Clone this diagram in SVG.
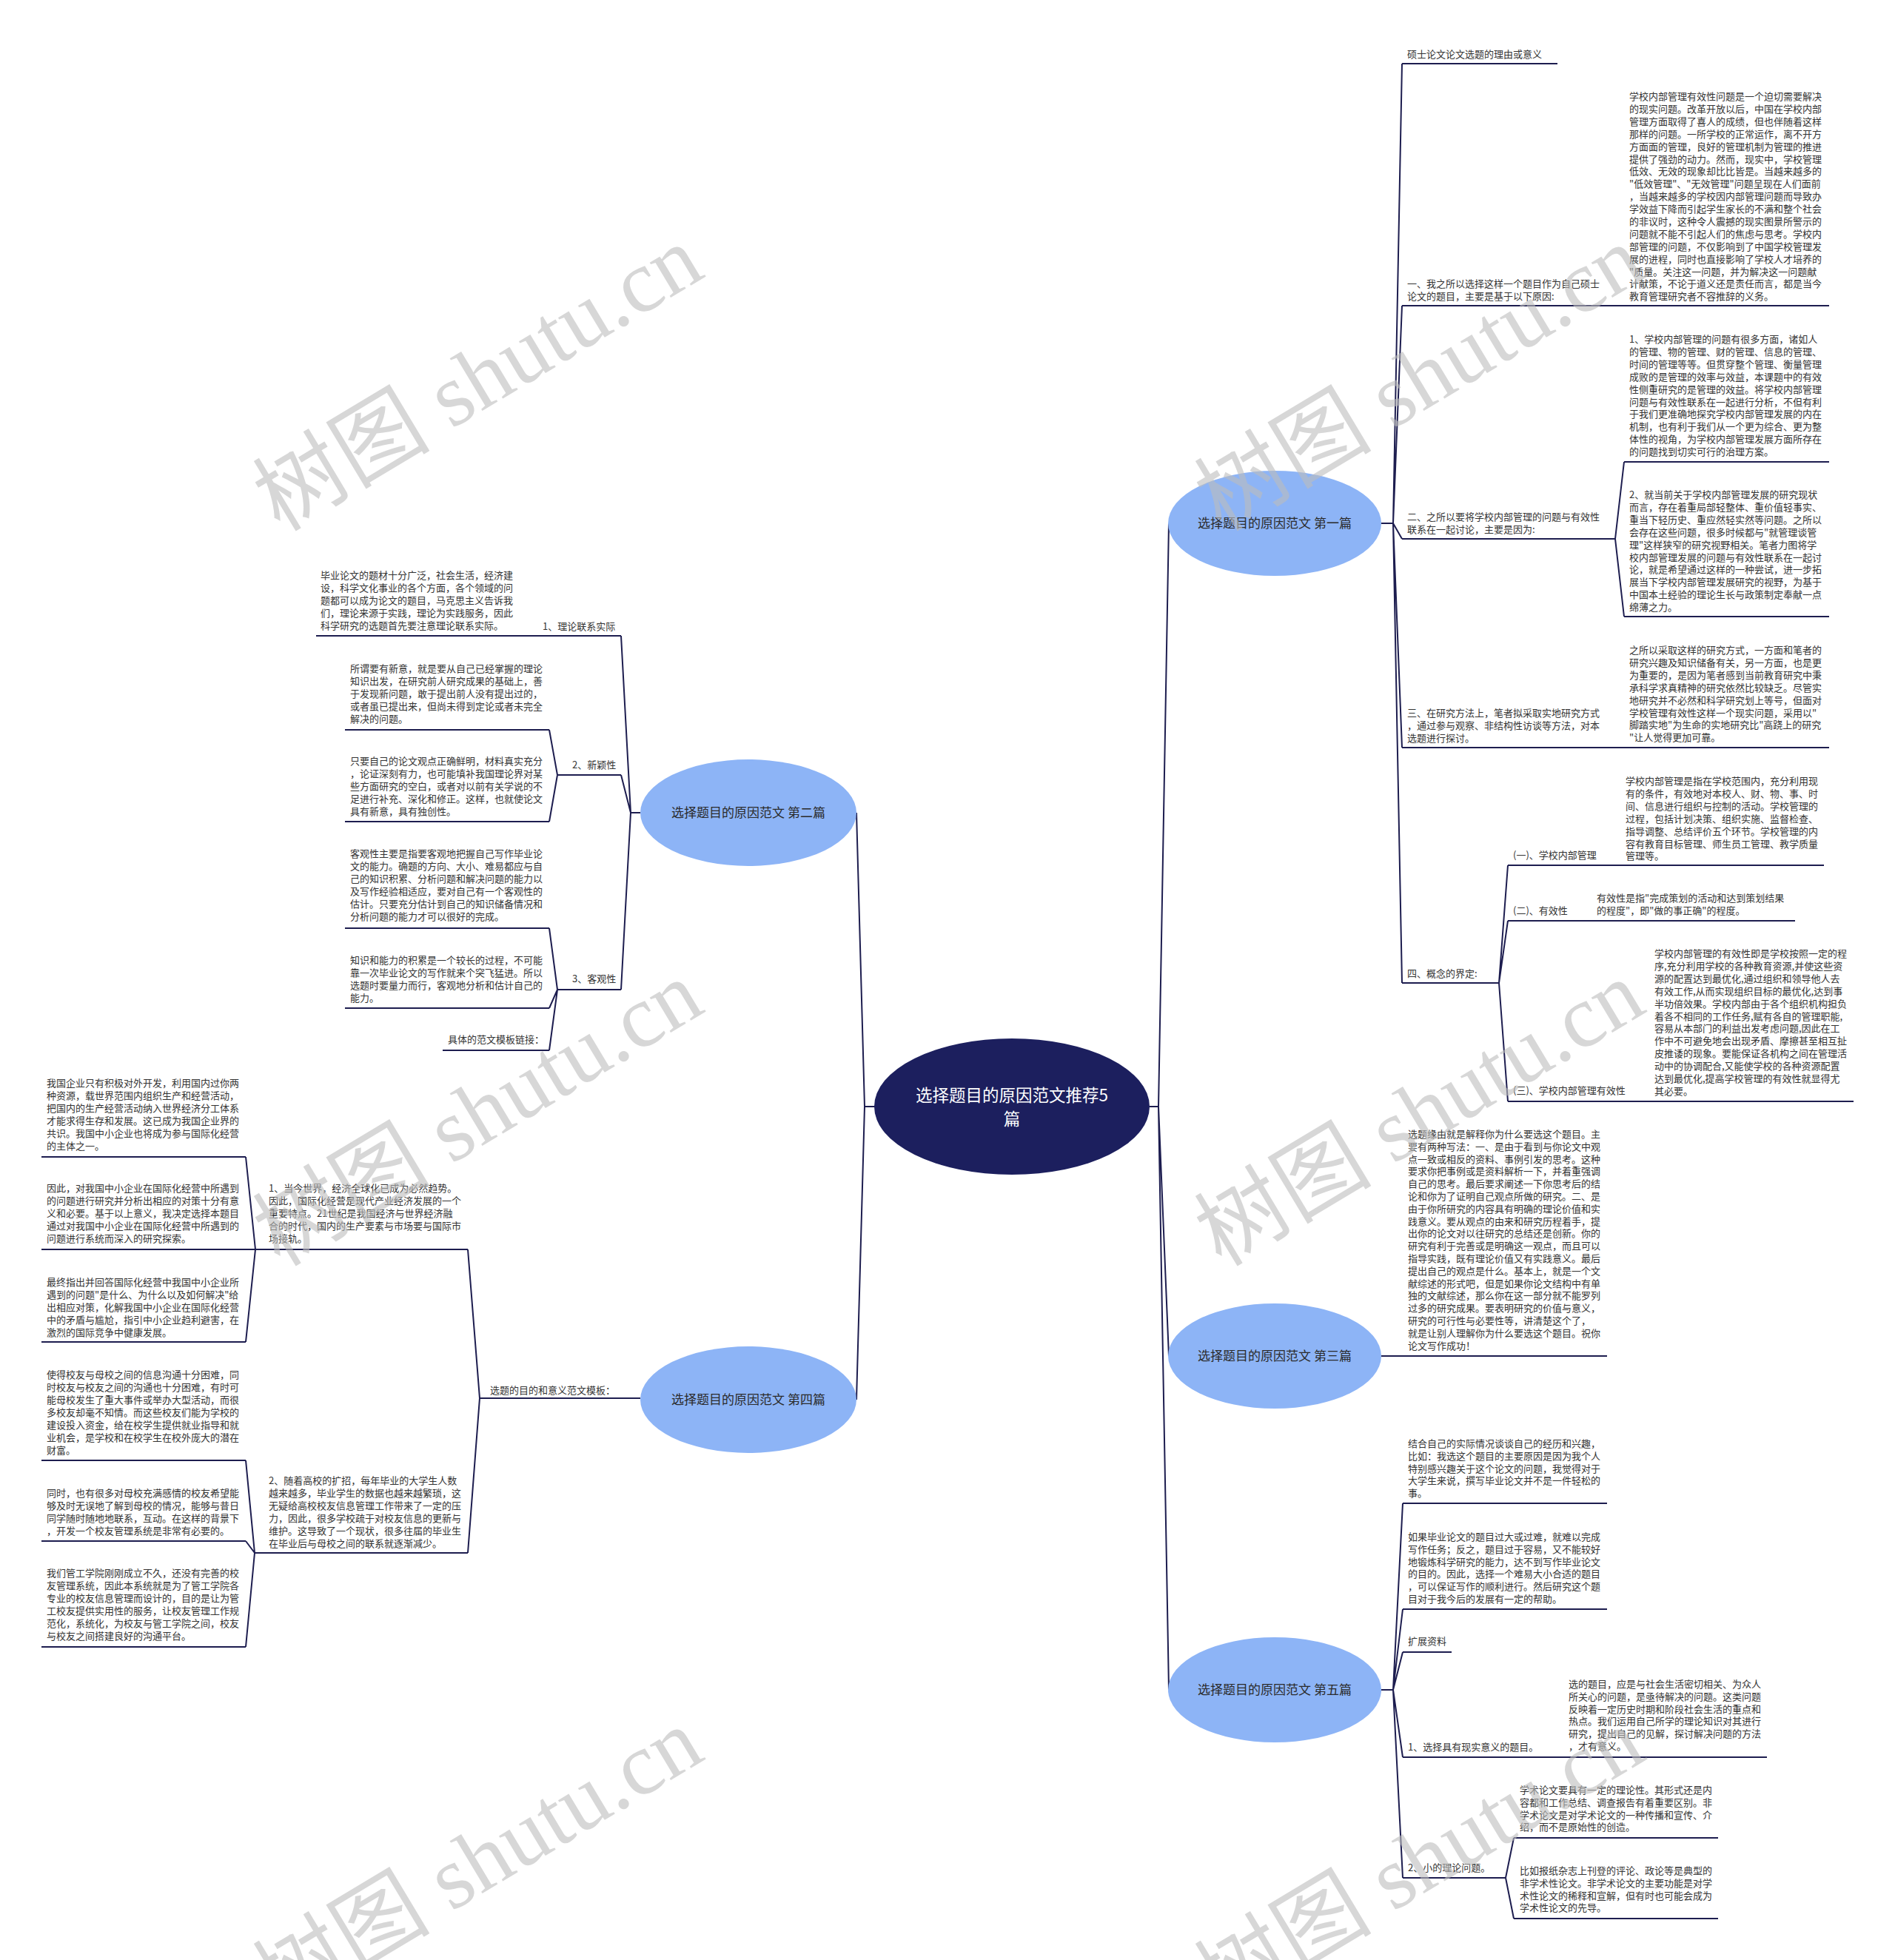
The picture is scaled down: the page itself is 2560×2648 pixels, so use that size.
<svg xmlns="http://www.w3.org/2000/svg" width="2560" height="2648" viewBox="0 0 2560 2648">
<style>
.t{font-family:"Noto Sans CJK SC","Noto Sans",sans-serif;font-size:13px;fill:#333;}
.l{stroke:#1d1d4f;stroke-width:2;fill:none;stroke-linejoin:round;}
.n1{fill:#8db4f6;}
.n1t{font-family:"Noto Sans CJK SC","Noto Sans",sans-serif;font-size:17px;fill:#2b2b2b;text-anchor:middle;}
.root{fill:#1c1f5e;}
.roott{font-family:"Noto Sans CJK SC","Noto Sans",sans-serif;font-size:22.5px;fill:#fff;text-anchor:middle;}
.wm{font-family:"Liberation Serif","Noto Sans CJK SC",serif;font-size:120px;fill:#bdbdbd;opacity:0.6;text-anchor:middle;}
</style>
<rect width="2560" height="2648" fill="#fff"/>

<g id="connectors">
<!-- root trunks -->
<path class="l" d="M1553 1495 L1565 1495 L1579 707 M1565 1495 L1579 1832 M1565 1495 L1579 2283"/>
<path class="l" d="M1182 1495 L1168 1495 L1157 1098 M1168 1495 L1157 1891"/>
<!-- 第一篇 -->
<path class="l" d="M1866 707 L1882 707 L1894 86 M1882 707 L1894 413 M1882 707 L1894 728 M1882 707 L1894 1010 M1882 707 L1894 1328"/>
<path class="l" d="M2182 728 L2194 624 M2182 728 L2194 833"/>
<path class="l" d="M2025 1328 L2037 1169 M2025 1328 L2037 1244 M2025 1328 L2037 1488"/>
<!-- 第三篇 -->
<path class="l" d="M1866 1832 L1880 1832"/>
<!-- 第五篇 -->
<path class="l" d="M1866 2283 L1882 2283 L1895 2031 M1882 2283 L1895 2174 M1882 2283 L1895 2232 M1882 2283 L1895 2374 M1882 2283 L1895 2537"/>
<path class="l" d="M2034 2537 L2045 2483 M2034 2537 L2045 2592"/>
<!-- 第二篇 -->
<path class="l" d="M865 1098 L852 1098 L839 859 M852 1098 L839 1047 M852 1098 L839 1337"/>
<path class="l" d="M753 1047 L742 986 M753 1047 L742 1110"/>
<path class="l" d="M753 1337 L742 1254 M753 1337 L742 1362 M753 1337 L742 1419"/>
<!-- 第四篇 -->
<path class="l" d="M865 1889 L648 1889 L632 1688 M648 1889 L632 2098"/>
<path class="l" d="M345 1688 L332 1563 M345 1688 L332 1813"/>
<path class="l" d="M344 2098 L332 1973 M344 2098 L332 2082 M344 2098 L332 2225"/>
</g>

<g id="root">
<ellipse class="root" cx="1367" cy="1495" rx="186" ry="92"/>
<text class="roott" x="1367" y="1488">选择题目的原因范文推荐5</text>
<text class="roott" x="1367" y="1520">篇</text>
</g>

<g id="p1">
<ellipse class="n1" cx="1722" cy="707" rx="144" ry="71"/>
<text class="n1t" x="1722" y="713">选择题目的原因范文 第一篇</text>
</g>
<g id="p3">
<ellipse class="n1" cx="1722" cy="1832" rx="144" ry="71"/>
<text class="n1t" x="1722" y="1838">选择题目的原因范文 第三篇</text>
</g>
<g id="p5">
<ellipse class="n1" cx="1722" cy="2283" rx="144" ry="71"/>
<text class="n1t" x="1722" y="2289">选择题目的原因范文 第五篇</text>
</g>
<g id="p2">
<ellipse class="n1" cx="1011" cy="1098" rx="146" ry="72"/>
<text class="n1t" x="1011" y="1104">选择题目的原因范文 第二篇</text>
</g>
<g id="p4">
<ellipse class="n1" cx="1011" cy="1891" rx="146" ry="72"/>
<text class="n1t" x="1011" y="1897">选择题目的原因范文 第四篇</text>
</g>

<!-- 第一篇 children -->
<g id="p1-title">
<text class="t" x="1901" y="78">硕士论文论文选题的理由或意义</text>
<path class="l" d="M1894 86 L2104 86"/>
</g>
<g id="p1-a">
<text class="t" x="1901" y="388">一、我之所以选择这样一个题目作为自己硕士<tspan x="1901" dy="17">论文的题目，主要是基于以下原因:</tspan></text>
<path class="l" d="M1894 413 L2471 413"/>
</g>
<g id="p1-a1">
<text class="t" x="2201" y="135"><tspan x="2201">学校内部管理有效性问题是一个迫切需要解决</tspan><tspan x="2201" dy="16.9">的现实问题。改革开放以后，中国在学校内部</tspan><tspan x="2201" dy="16.9">管理方面取得了喜人的成绩，但也伴随着这样</tspan><tspan x="2201" dy="16.9">那样的问题。一所学校的正常运作，离不开方</tspan><tspan x="2201" dy="16.9">方面面的管理，良好的管理机制为管理的推进</tspan><tspan x="2201" dy="16.9">提供了强劲的动力。然而，现实中，学校管理</tspan><tspan x="2201" dy="16.9">低效、无效的现象却比比皆是。当越来越多的</tspan><tspan x="2201" dy="16.9">"低效管理"、"无效管理"问题呈现在人们面前</tspan><tspan x="2201" dy="16.9">，当越来越多的学校因内部管理问题而导致办</tspan><tspan x="2201" dy="16.9">学效益下降而引起学生家长的不满和整个社会</tspan><tspan x="2201" dy="16.9">的非议时，这种令人震撼的现实图景所警示的</tspan><tspan x="2201" dy="16.9">问题就不能不引起人们的焦虑与思考。学校内</tspan><tspan x="2201" dy="16.9">部管理的问题，不仅影响到了中国学校管理发</tspan><tspan x="2201" dy="16.9">展的进程，同时也直接影响了学校人才培养的</tspan><tspan x="2201" dy="16.9">"质量。关注这一问题，并为解决这一问题献</tspan><tspan x="2201" dy="16.9">计献策，不论于道义还是责任而言，都是当今</tspan><tspan x="2201" dy="16.9">教育管理研究者不容推辞的义务。</tspan></text>
</g>
<g id="p1-b">
<text class="t" x="1901" y="703">二、之所以要将学校内部管理的问题与有效性<tspan x="1901" dy="17">联系在一起讨论，主要是因为:</tspan></text>
<path class="l" d="M1894 728 L2182 728"/>
</g>
<g id="p1-b1">
<text class="t" x="2201" y="463"><tspan x="2201">1、学校内部管理的问题有很多方面，诸如人</tspan><tspan x="2201" dy="16.9">的管理、物的管理、财的管理、信息的管理、</tspan><tspan x="2201" dy="16.9">时间的管理等等。但贯穿整个管理、衡量管理</tspan><tspan x="2201" dy="16.9">成败的是管理的效率与效益，本课题中的有效</tspan><tspan x="2201" dy="16.9">性侧重研究的是管理的效益。将学校内部管理</tspan><tspan x="2201" dy="16.9">问题与有效性联系在一起进行分析，不但有利</tspan><tspan x="2201" dy="16.9">于我们更准确地探究学校内部管理发展的内在</tspan><tspan x="2201" dy="16.9">机制，也有利于我们从一个更为综合、更为整</tspan><tspan x="2201" dy="16.9">体性的视角，为学校内部管理发展方面所存在</tspan><tspan x="2201" dy="16.9">的问题找到切实可行的治理方案。</tspan></text>
<path class="l" d="M2194 624 L2471 624"/>
</g>
<g id="p1-b2">
<text class="t" x="2201" y="673"><tspan x="2201">2、就当前关于学校内部管理发展的研究现状</tspan><tspan x="2201" dy="16.9">而言，存在着重局部轻整体、重价值轻事实、</tspan><tspan x="2201" dy="16.9">重当下轻历史、重应然轻实然等问题。之所以</tspan><tspan x="2201" dy="16.9">会存在这些问题，很多时候都与"就管理谈管</tspan><tspan x="2201" dy="16.9">理"这样狭窄的研究视野相关。笔者力图将学</tspan><tspan x="2201" dy="16.9">校内部管理发展的问题与有效性联系在一起讨</tspan><tspan x="2201" dy="16.9">论，就是希望通过这样的一种尝试，进一步拓</tspan><tspan x="2201" dy="16.9">展当下学校内部管理发展研究的视野，为基于</tspan><tspan x="2201" dy="16.9">中国本土经验的理论生长与政策制定奉献一点</tspan><tspan x="2201" dy="16.9">绵薄之力。</tspan></text>
<path class="l" d="M2194 833 L2471 833"/>
</g>
<g id="p1-c">
<text class="t" x="1901" y="968"><tspan x="1901">三、在研究方法上，笔者拟采取实地研究方式</tspan><tspan x="1901" dy="17">，通过参与观察、非结构性访谈等方法，对本</tspan><tspan x="1901" dy="17">选题进行探讨。</tspan></text>
<path class="l" d="M1894 1010 L2471 1010"/>
</g>
<g id="p1-c1">
<text class="t" x="2201" y="883"><tspan x="2201">之所以采取这样的研究方式，一方面和笔者的</tspan><tspan x="2201" dy="16.9">研究兴趣及知识储备有关，另一方面，也是更</tspan><tspan x="2201" dy="16.9">为重要的，是因为笔者感到当前教育研究中秉</tspan><tspan x="2201" dy="16.9">承科学求真精神的研究依然比较缺乏。尽管实</tspan><tspan x="2201" dy="16.9">地研究并不必然和科学研究划上等号，但面对</tspan><tspan x="2201" dy="16.9">学校管理有效性这样一个现实问题，采用以"</tspan><tspan x="2201" dy="16.9">脚踏实地"为生命的实地研究比"高跷上的研究</tspan><tspan x="2201" dy="16.9">"让人觉得更加可靠。</tspan></text>
</g>
<g id="p1-d">
<text class="t" x="1901" y="1320">四、概念的界定:</text>
<path class="l" d="M1894 1328 L2025 1328"/>
</g>
<g id="p1-d1">
<text class="t" x="2044" y="1160">(一)、学校内部管理</text>
<path class="l" d="M2037 1169 L2464 1169"/>
</g>
<g id="p1-d1a">
<text class="t" x="2196" y="1060"><tspan x="2196">学校内部管理是指在学校范围内，充分利用现</tspan><tspan x="2196" dy="16.9">有的条件，有效地对本校人、财、物、事、时</tspan><tspan x="2196" dy="16.9">间、信息进行组织与控制的活动。学校管理的</tspan><tspan x="2196" dy="16.9">过程，包括计划决策、组织实施、监督检查、</tspan><tspan x="2196" dy="16.9">指导调整、总结评价五个环节。学校管理的内</tspan><tspan x="2196" dy="16.9">容有教育目标管理、师生员工管理、教学质量</tspan><tspan x="2196" dy="16.9">管理等。</tspan></text>
</g>
<g id="p1-d2">
<text class="t" x="2044" y="1235">(二)、有效性</text>
<path class="l" d="M2037 1244 L2425 1244"/>
</g>
<g id="p1-d2a">
<text class="t" x="2157" y="1218"><tspan x="2157">有效性是指"完成策划的活动和达到策划结果</tspan><tspan x="2157" dy="17">的程度"，即"做的事正确"的程度。</tspan></text>
</g>
<g id="p1-d3">
<text class="t" x="2044" y="1478">(三)、学校内部管理有效性</text>
<path class="l" d="M2037 1488 L2504 1488"/>
</g>
<g id="p1-d3a">
<text class="t" x="2235" y="1293"><tspan x="2235">学校内部管理的有效性即是学校按照一定的程</tspan><tspan x="2235" dy="16.9">序,充分利用学校的各种教育资源,并使这些资</tspan><tspan x="2235" dy="16.9">源的配置达到最优化,通过组织和领导他人去</tspan><tspan x="2235" dy="16.9">有效工作,从而实现组织目标的最优化,达到事</tspan><tspan x="2235" dy="16.9">半功倍效果。学校内部由于各个组织机构担负</tspan><tspan x="2235" dy="16.9">着各不相同的工作任务,赋有各自的管理职能,</tspan><tspan x="2235" dy="16.9">容易从本部门的利益出发考虑问题,因此在工</tspan><tspan x="2235" dy="16.9">作中不可避免地会出现矛盾、摩擦甚至相互扯</tspan><tspan x="2235" dy="16.9">皮推诿的现象。要能保证各机构之间在管理活</tspan><tspan x="2235" dy="16.9">动中的协调配合,又能使学校的各种资源配置</tspan><tspan x="2235" dy="16.9">达到最优化,提高学校管理的有效性就显得尤</tspan><tspan x="2235" dy="16.9">其必要。</tspan></text>
</g>

<!-- 第三篇 child -->
<g id="p3-a">
<text class="t" x="1902" y="1537"><tspan x="1902">选题缘由就是解释你为什么要选这个题目。主</tspan><tspan x="1902" dy="16.8">要有两种写法：一、是由于看到与你论文中观</tspan><tspan x="1902" dy="16.8">点一致或相反的资料、事例引发的思考。这种</tspan><tspan x="1902" dy="16.8">要求你把事例或是资料解析一下，并着重强调</tspan><tspan x="1902" dy="16.8">自己的思考。最后要求阐述一下你思考后的结</tspan><tspan x="1902" dy="16.8">论和你为了证明自己观点所做的研究。二、是</tspan><tspan x="1902" dy="16.8">由于你所研究的内容具有明确的理论价值和实</tspan><tspan x="1902" dy="16.8">践意义。要从观点的由来和研究历程着手，提</tspan><tspan x="1902" dy="16.8">出你的论文对以往研究的总结还是创新。你的</tspan><tspan x="1902" dy="16.8">研究有利于完善或是明确这一观点，而且可以</tspan><tspan x="1902" dy="16.8">指导实践，既有理论价值又有实践意义。最后</tspan><tspan x="1902" dy="16.8">提出自己的观点是什么。基本上，就是一个文</tspan><tspan x="1902" dy="16.8">献综述的形式吧，但是如果你论文结构中有单</tspan><tspan x="1902" dy="16.8">独的文献综述，那么你在这一部分就不能罗列</tspan><tspan x="1902" dy="16.8">过多的研究成果。要表明研究的价值与意义，</tspan><tspan x="1902" dy="16.8">研究的可行性与必要性等，讲清楚这个了，</tspan><tspan x="1902" dy="16.8">就是让别人理解你为什么要选这个题目。祝你</tspan><tspan x="1902" dy="16.8">论文写作成功！</tspan></text>
<path class="l" d="M1880 1832 L2171 1832"/>
</g>

<!-- 第五篇 children -->
<g id="p5-a">
<text class="t" x="1902" y="1955"><tspan x="1902">结合自己的实际情况谈谈自己的经历和兴趣，</tspan><tspan x="1902" dy="16.8">比如：我选这个题目的主要原因是因为我个人</tspan><tspan x="1902" dy="16.8">特别感兴趣关于这个论文的问题，我觉得对于</tspan><tspan x="1902" dy="16.8">大学生来说，撰写毕业论文并不是一件轻松的</tspan><tspan x="1902" dy="16.8">事。</tspan></text>
<path class="l" d="M1895 2031 L2171 2031"/>
</g>
<g id="p5-b">
<text class="t" x="1902" y="2081"><tspan x="1902">如果毕业论文的题目过大或过难，就难以完成</tspan><tspan x="1902" dy="16.8">写作任务；反之，题目过于容易，又不能较好</tspan><tspan x="1902" dy="16.8">地锻炼科学研究的能力，达不到写作毕业论文</tspan><tspan x="1902" dy="16.8">的目的。因此，选择一个难易大小合适的题目</tspan><tspan x="1902" dy="16.8">，可以保证写作的顺利进行。然后研究这个题</tspan><tspan x="1902" dy="16.8">目对于我今后的发展有一定的帮助。</tspan></text>
<path class="l" d="M1895 2174 L2171 2174"/>
</g>
<g id="p5-c">
<text class="t" x="1902" y="2222">扩展资料</text>
<path class="l" d="M1895 2232 L1961 2232"/>
</g>
<g id="p5-d">
<text class="t" x="1902" y="2365">1、选择具有现实意义的题目。</text>
<path class="l" d="M1895 2374 L2387 2374"/>
</g>
<g id="p5-d1">
<text class="t" x="2119" y="2280"><tspan x="2119">选的题目，应是与社会生活密切相关、为众人</tspan><tspan x="2119" dy="16.8">所关心的问题，是亟待解决的问题。这类问题</tspan><tspan x="2119" dy="16.8">反映着一定历史时期和阶段社会生活的重点和</tspan><tspan x="2119" dy="16.8">热点。我们运用自己所学的理论知识对其进行</tspan><tspan x="2119" dy="16.8">研究，提出自己的见解，探讨解决问题的方法</tspan><tspan x="2119" dy="16.8">，才有意义。</tspan></text>
</g>
<g id="p5-e">
<text class="t" x="1902" y="2528">2、小的理论问题。</text>
<path class="l" d="M1895 2537 L2034 2537"/>
</g>
<g id="p5-e1">
<text class="t" x="2053" y="2423"><tspan x="2053">学术论文要具有一定的理论性。其形式还是内</tspan><tspan x="2053" dy="16.8">容都和工作总结、调查报告有着重要区别。非</tspan><tspan x="2053" dy="16.8">学术论文是对学术论文的一种传播和宣传、介</tspan><tspan x="2053" dy="16.8">绍，而不是原始性的创造。</tspan></text>
<path class="l" d="M2045 2483 L2321 2483"/>
</g>
<g id="p5-e2">
<text class="t" x="2053" y="2532"><tspan x="2053">比如报纸杂志上刊登的评论、政论等是典型的</tspan><tspan x="2053" dy="16.8">非学术性论文。非学术论文的主要功能是对学</tspan><tspan x="2053" dy="16.8">术性论文的稀释和宣解，但有时也可能会成为</tspan><tspan x="2053" dy="16.8">学术性论文的先导。</tspan></text>
<path class="l" d="M2045 2592 L2321 2592"/>
</g>

<!-- 第二篇 children -->
<g id="p2-a">
<text class="t" x="733" y="851">1、理论联系实际</text>
<path class="l" d="M427 859 L839 859"/>
</g>
<g id="p2-a1">
<text class="t" x="433" y="782"><tspan x="433">毕业论文的题材十分广泛，社会生活，经济建</tspan><tspan x="433" dy="17">设，科学文化事业的各个方面，各个领域的问</tspan><tspan x="433" dy="17">题都可以成为论文的题目，马克思主义告诉我</tspan><tspan x="433" dy="17">们，理论来源于实践，理论为实践服务，因此</tspan><tspan x="433" dy="17">科学研究的选题首先要注意理论联系实际。</tspan></text>
</g>
<g id="p2-b">
<text class="t" x="773" y="1038">2、新颖性</text>
<path class="l" d="M753 1047 L839 1047"/>
</g>
<g id="p2-b1">
<text class="t" x="473" y="908"><tspan x="473">所谓要有新意，就是要从自己已经掌握的理论</tspan><tspan x="473" dy="17">知识出发，在研究前人研究成果的基础上，善</tspan><tspan x="473" dy="17">于发现新问题，敢于提出前人没有提出过的，</tspan><tspan x="473" dy="17">或者虽已提出来，但尚未得到定论或者未完全</tspan><tspan x="473" dy="17">解决的问题。</tspan></text>
<path class="l" d="M466 986 L742 986"/>
</g>
<g id="p2-b2">
<text class="t" x="473" y="1033"><tspan x="473">只要自己的论文观点正确鲜明，材料真实充分</tspan><tspan x="473" dy="17">，论证深刻有力，也可能填补我国理论界对某</tspan><tspan x="473" dy="17">些方面研究的空白，或者对以前有关学说的不</tspan><tspan x="473" dy="17">足进行补充、深化和修正。这样，也就使论文</tspan><tspan x="473" dy="17">具有新意，具有独创性。</tspan></text>
<path class="l" d="M466 1110 L742 1110"/>
</g>
<g id="p2-c">
<text class="t" x="773" y="1327">3、客观性</text>
<path class="l" d="M753 1337 L839 1337"/>
</g>
<g id="p2-c1">
<text class="t" x="473" y="1158"><tspan x="473">客观性主要是指要客观地把握自己写作毕业论</tspan><tspan x="473" dy="17">文的能力。确题的方向、大小、难易都应与自</tspan><tspan x="473" dy="17">己的知识积累、分析问题和解决问题的能力以</tspan><tspan x="473" dy="17">及写作经验相适应，要对自己有一个客观性的</tspan><tspan x="473" dy="17">估计。只要充分估计到自己的知识储备情况和</tspan><tspan x="473" dy="17">分析问题的能力才可以很好的完成。</tspan></text>
<path class="l" d="M466 1254 L742 1254"/>
</g>
<g id="p2-c2">
<text class="t" x="473" y="1302"><tspan x="473">知识和能力的积累是一个较长的过程，不可能</tspan><tspan x="473" dy="17">靠一次毕业论文的写作就来个突飞猛进。所以</tspan><tspan x="473" dy="17">选题时要量力而行，客观地分析和估计自己的</tspan><tspan x="473" dy="17">能力。</tspan></text>
<path class="l" d="M466 1362 L742 1362"/>
</g>
<g id="p2-c3">
<text class="t" x="605" y="1409">具体的范文模板链接：</text>
<path class="l" d="M598 1419 L742 1419"/>
</g>

<!-- 第四篇 children -->
<g id="p4-a">
<text class="t" x="662" y="1883">选题的目的和意义范文模板：</text>
</g>
<g id="p4-a1">
<text class="t" x="363" y="1610"><tspan x="363">1、当今世界，经济全球化已成为必然趋势。</tspan><tspan x="363" dy="17">因此，国际化经营是现代产业经济发展的一个</tspan><tspan x="363" dy="17">重要特点。21世纪是我国经济与世界经济融</tspan><tspan x="363" dy="17">合的时代，国内的生产要素与市场要与国际市</tspan><tspan x="363" dy="17">场接轨。</tspan></text>
<path class="l" d="M345 1688 L632 1688"/>
</g>
<g id="p4-a1a">
<text class="t" x="63" y="1468"><tspan x="63">我国企业只有积极对外开发，利用国内过你两</tspan><tspan x="63" dy="17">种资源，载世界范围内组织生产和经营活动，</tspan><tspan x="63" dy="17">把国内的生产经营活动纳入世界经济分工体系</tspan><tspan x="63" dy="17">才能求得生存和发展。这已成为我国企业界的</tspan><tspan x="63" dy="17">共识。我国中小企业也将成为参与国际化经营</tspan><tspan x="63" dy="17">的主体之一。</tspan></text>
<path class="l" d="M56 1563 L332 1563"/>
</g>
<g id="p4-a1b">
<text class="t" x="63" y="1610"><tspan x="63">因此，对我国中小企业在国际化经营中所遇到</tspan><tspan x="63" dy="17">的问题进行研究并分析出相应的对策十分有意</tspan><tspan x="63" dy="17">义和必要。基于以上意义，我决定选择本题目</tspan><tspan x="63" dy="17">通过对我国中小企业在国际化经营中所遇到的</tspan><tspan x="63" dy="17">问题进行系统而深入的研究探索。</tspan></text>
<path class="l" d="M56 1688 L345 1688"/>
</g>
<g id="p4-a1c">
<text class="t" x="63" y="1737"><tspan x="63">最终指出并回答国际化经营中我国中小企业所</tspan><tspan x="63" dy="17">遇到的问题"是什么、为什么以及如何解决"给</tspan><tspan x="63" dy="17">出相应对策，化解我国中小企业在国际化经营</tspan><tspan x="63" dy="17">中的矛盾与尴尬，指引中小企业趋利避害，在</tspan><tspan x="63" dy="17">激烈的国际竞争中健康发展。</tspan></text>
<path class="l" d="M56 1813 L332 1813"/>
</g>
<g id="p4-a2">
<text class="t" x="363" y="2005"><tspan x="363">2、随着高校的扩招，每年毕业的大学生人数</tspan><tspan x="363" dy="17">越来越多，毕业学生的数据也越来越繁琐，这</tspan><tspan x="363" dy="17">无疑给高校校友信息管理工作带来了一定的压</tspan><tspan x="363" dy="17">力，因此，很多学校疏于对校友信息的更新与</tspan><tspan x="363" dy="17">维护。这导致了一个现状，很多往届的毕业生</tspan><tspan x="363" dy="17">在毕业后与母校之间的联系就逐渐减少。</tspan></text>
<path class="l" d="M344 2098 L632 2098"/>
</g>
<g id="p4-a2a">
<text class="t" x="63" y="1862"><tspan x="63">使得校友与母校之间的信息沟通十分困难，同</tspan><tspan x="63" dy="17">时校友与校友之间的沟通也十分困难，有时可</tspan><tspan x="63" dy="17">能母校发生了重大事件或举办大型活动，而很</tspan><tspan x="63" dy="17">多校友却毫不知情。而这些校友们能为学校的</tspan><tspan x="63" dy="17">建设投入资金，给在校学生提供就业指导和就</tspan><tspan x="63" dy="17">业机会，是学校和在校学生在校外庞大的潜在</tspan><tspan x="63" dy="17">财富。</tspan></text>
<path class="l" d="M56 1973 L332 1973"/>
</g>
<g id="p4-a2b">
<text class="t" x="63" y="2022"><tspan x="63">同时，也有很多对母校充满感情的校友希望能</tspan><tspan x="63" dy="17">够及时无误地了解到母校的情况，能够与昔日</tspan><tspan x="63" dy="17">同学随时随地地联系，互动。在这样的背景下</tspan><tspan x="63" dy="17">，开发一个校友管理系统是非常有必要的。</tspan></text>
<path class="l" d="M56 2082 L332 2082"/>
</g>
<g id="p4-a2c">
<text class="t" x="63" y="2130"><tspan x="63">我们管工学院刚刚成立不久，还没有完善的校</tspan><tspan x="63" dy="17">友管理系统，因此本系统就是为了管工学院各</tspan><tspan x="63" dy="17">专业的校友信息管理而设计的，目的是让为管</tspan><tspan x="63" dy="17">工校友提供实用性的服务，让校友管理工作规</tspan><tspan x="63" dy="17">范化，系统化，为校友与管工学院之间，校友</tspan><tspan x="63" dy="17">与校友之间搭建良好的沟通平台。</tspan></text>
<path class="l" d="M56 2225 L332 2225"/>
</g>

<g id="watermarks">
<text class="wm" x="645" y="552" transform="rotate(-31 645 510)">树图 shutu.cn</text>
<text class="wm" x="645" y="1545" transform="rotate(-31 645 1503)">树图 shutu.cn</text>
<text class="wm" x="645" y="2555" transform="rotate(-31 645 2513)">树图 shutu.cn</text>
<text class="wm" x="1917" y="552" transform="rotate(-31 1917 510)">树图 shutu.cn</text>
<text class="wm" x="1917" y="1545" transform="rotate(-31 1917 1503)">树图 shutu.cn</text>
<text class="wm" x="1917" y="2555" transform="rotate(-31 1917 2513)">树图 shutu.cn</text>
</g>
</svg>
